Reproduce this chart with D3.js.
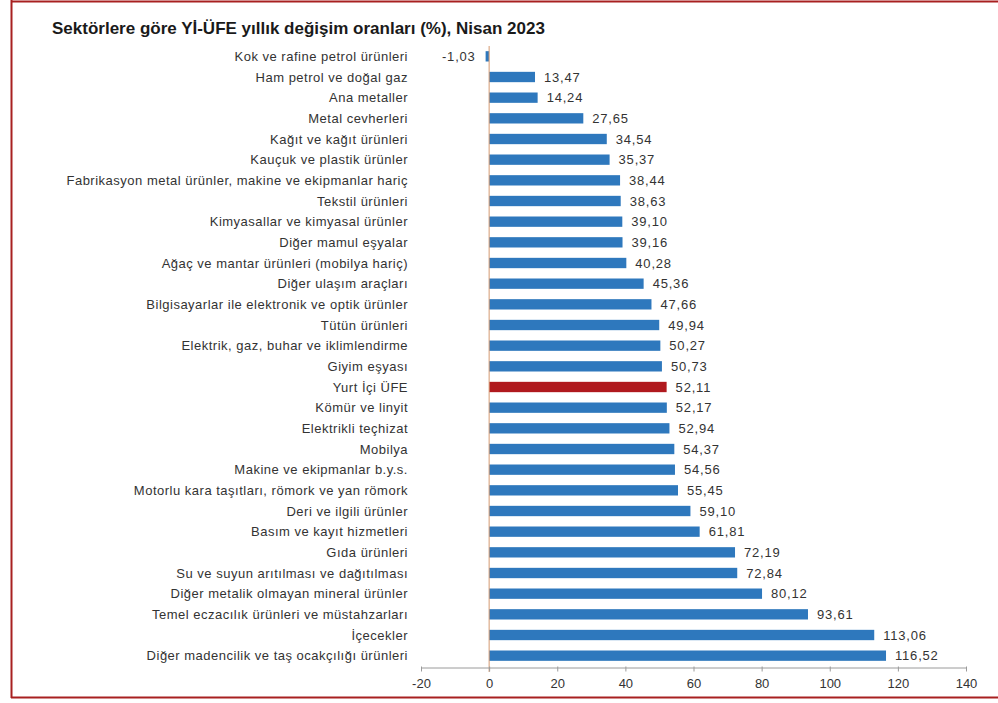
<!DOCTYPE html>
<html>
<head>
<meta charset="utf-8">
<script src="https://cdn.jsdelivr.net/npm/d3@7"></script>
<style>
  body { margin: 0; background: #fff; }
  svg { display: block; font-family: Arial, 'Liberation Sans', sans-serif; }
</style>
</head>
<body>
<svg id="chart" width="998" height="703"></svg>
<script>
const sectors = [
  'Kok ve rafine petrol ürünleri',
  'Ham petrol ve doğal gaz',
  'Ana metaller',
  'Metal cevherleri',
  'Kağıt ve kağıt ürünleri',
  'Kauçuk ve plastik ürünler',
  'Fabrikasyon metal ürünler, makine ve ekipmanlar hariç',
  'Tekstil ürünleri',
  'Kimyasallar ve kimyasal ürünler',
  'Diğer mamul eşyalar',
  'Ağaç ve mantar ürünleri (mobilya hariç)',
  'Diğer ulaşım araçları',
  'Bilgisayarlar ile elektronik ve optik ürünler',
  'Tütün ürünleri',
  'Elektrik, gaz, buhar ve iklimlendirme',
  'Giyim eşyası',
  'Yurt İçi ÜFE',
  'Kömür ve linyit',
  'Elektrikli teçhizat',
  'Mobilya',
  'Makine ve ekipmanlar b.y.s.',
  'Motorlu kara taşıtları, römork ve yan römork',
  'Deri ve ilgili ürünler',
  'Basım ve kayıt hizmetleri',
  'Gıda ürünleri',
  'Su ve suyun arıtılması ve dağıtılması',
  'Diğer metalik olmayan mineral ürünler',
  'Temel eczacılık ürünleri ve müstahzarları',
  'İçecekler',
  'Diğer madencilik ve taş ocakçılığı ürünleri'
]
const changes = [
  -1.03, 13.47, 14.24, 27.65, 34.54, 35.37, 38.44, 38.63, 39.10, 39.16,
  40.28, 45.36, 47.66, 49.94, 50.27, 50.73, 52.11, 52.17, 52.94, 54.37,
  54.56, 55.45, 59.10, 61.81, 72.19, 72.84, 80.12, 93.61, 113.06, 116.52
]
const highlight = 'Yurt İçi ÜFE'
const xTicks = [-20, 0, 20, 40, 60, 80, 100, 120, 140]

const data = sectors.map((name, i) => ({ name, value: changes[i] }))

const svg = d3.select('#chart')

// frame (left, top, bottom only)
const frame = svg.append('g').attr('stroke', '#a82020').attr('stroke-width', 2).attr('fill', 'none')
frame.append('line').attr('x1', 11).attr('x2', 998).attr('y1', 1.5).attr('y2', 1.5)
frame.append('line').attr('x1', 11.5).attr('x2', 11.5).attr('y1', 0).attr('y2', 698)
frame.append('line').attr('x1', 11).attr('x2', 998).attr('y1', 697.5).attr('y2', 697.5)

svg.append('text')
  .attr('x', 52)
  .attr('y', 34)
  .attr('font-size', 17)
  .attr('font-weight', 'bold')
  .attr('fill', '#1a1a1a')
  .text('Sektörlere göre Yİ-ÜFE yıllık değişim oranları (%), Nisan 2023')

const x = d3.scaleLinear().domain([-20, 140]).range([421, 966])
const y = d3.scaleBand()
  .domain(sectors)
  .range([46, 666])
  .paddingInner(0.5)
  .paddingOuter(0.25)

// bars
svg.append('g')
  .selectAll('rect')
  .data(data)
  .join('rect')
  .attr('x', d => x(Math.min(0, d.value)))
  .attr('y', d => y(d.name))
  .attr('width', d => Math.abs(x(d.value) - x(0)))
  .attr('height', y.bandwidth())
  .attr('fill', d => d.name === highlight ? '#b0191e' : '#2e78bd')

// zero line
svg.append('line')
  .attr('x1', x(0)).attr('x2', x(0))
  .attr('y1', 46).attr('y2', 672)
  .attr('stroke', '#d59a70')
  .attr('stroke-width', 1)

// category labels
svg.append('g')
  .attr('font-size', 13)
  .attr('letter-spacing', 0.5)
  .attr('fill', '#333')
  .attr('text-anchor', 'end')
  .selectAll('text')
  .data(data)
  .join('text')
  .attr('x', 408)
  .attr('y', d => y(d.name) + y.bandwidth() / 2)
  .attr('dy', '0.35em')
  .text(d => d.name)

// value labels
const fmt = v => d3.format('.2f')(v).replace('.', ',').replace('\u2212', '-')
svg.append('g')
  .attr('font-size', 13)
  .attr('letter-spacing', 0.8)
  .attr('fill', '#333')
  .selectAll('text')
  .data(data)
  .join('text')
  .attr('x', d => d.value < 0 ? x(d.value) - 10 : x(d.value) + 9)
  .attr('text-anchor', d => d.value < 0 ? 'end' : 'start')
  .attr('y', d => y(d.name) + y.bandwidth() / 2)
  .attr('dy', '0.35em')
  .text(d => fmt(d.value))

// x axis
const axis = svg.append('g')
  .attr('transform', 'translate(0,667.5)')
  .call(d3.axisBottom(x)
    .tickValues(xTicks)
    .tickFormat(d => String(d))
    .tickSize(5)
    .tickSizeOuter(0)
    .tickPadding(6))
axis.select('.domain').attr('stroke', '#9a9a9a')
axis.selectAll('.tick line').attr('stroke', '#9a9a9a').attr('transform', 'translate(0,-1)')
axis.selectAll('.tick text')
  .attr('font-size', 13)
  .attr('font-family', 'Arial, "Liberation Sans", sans-serif')
  .attr('fill', '#333')
</script>
</body>
</html>
